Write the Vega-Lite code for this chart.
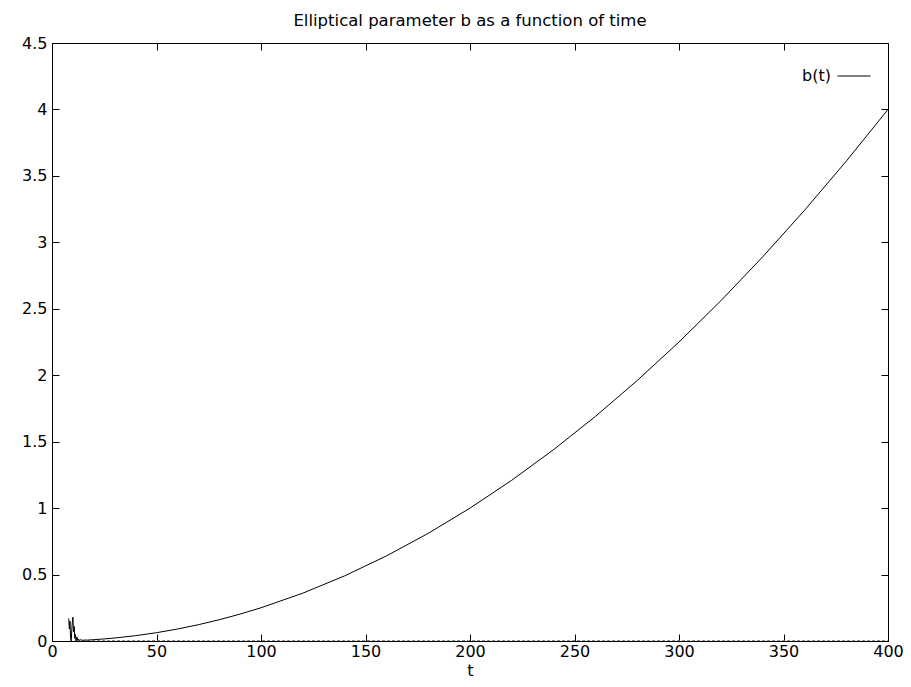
{
  "$schema": "https://vega.github.io/schema/vega-lite/v6.json",
  "width": 836,
  "height": 598,
  "autosize": {"type": "none"},
  "padding": {"left": 52, "top": 43, "right": 23, "bottom": 44},
  "background": "white",
  "title": {"text": "Elliptical parameter b as a function of time", "font": "DejaVu Sans", "fontSize": 16.5, "fontWeight": "normal", "color": "black", "offset": 6},
  "config": {
    "view": {"stroke": "black", "strokeWidth": 1},
    "axis": {"labelFont": "DejaVu Sans", "labelFontSize": 16, "labelColor": "black", "labelFlush": false, "labelOverlap": false, "titleFont": "DejaVu Sans", "titleFontSize": 16, "titleFontWeight": "normal", "titleColor": "black", "domainColor": "black", "tickColor": "black", "tickSize": -7, "grid": false}
  },
  "datasets": {
    "main": [
      {"t": 8.0, "b": 0.17, "series": "b(t)"},
      {"t": 8.3, "b": 0.09, "series": "b(t)"},
      {"t": 8.6, "b": 0.15, "series": "b(t)"},
      {"t": 8.9, "b": 0.02, "series": "b(t)"},
      {"t": 9.2, "b": 0.0, "series": "b(t)"},
      {"t": 9.6, "b": 0.12, "series": "b(t)"},
      {"t": 10.0, "b": 0.18, "series": "b(t)"},
      {"t": 10.3, "b": 0.07, "series": "b(t)"},
      {"t": 10.6, "b": 0.11, "series": "b(t)"},
      {"t": 10.9, "b": 0.02, "series": "b(t)"},
      {"t": 11.2, "b": 0.05, "series": "b(t)"},
      {"t": 11.5, "b": 0.0, "series": "b(t)"},
      {"t": 11.9, "b": 0.03, "series": "b(t)"},
      {"t": 12.3, "b": 0.005, "series": "b(t)"},
      {"t": 12.7, "b": 0.015, "series": "b(t)"},
      {"t": 13.2, "b": 0.004, "series": "b(t)"},
      {"t": 13.8, "b": 0.01, "series": "b(t)"},
      {"t": 14.5, "b": 0.005, "series": "b(t)"},
      {"t": 15.5, "b": 0.007, "series": "b(t)"},
      {"t": 17, "b": 0.007, "series": "b(t)"},
      {"t": 20, "b": 0.01, "series": "b(t)"},
      {"t": 25, "b": 0.0156, "series": "b(t)"},
      {"t": 30, "b": 0.0225, "series": "b(t)"},
      {"t": 40, "b": 0.04, "series": "b(t)"},
      {"t": 50, "b": 0.0625, "series": "b(t)"},
      {"t": 60, "b": 0.09, "series": "b(t)"},
      {"t": 70, "b": 0.1225, "series": "b(t)"},
      {"t": 80, "b": 0.16, "series": "b(t)"},
      {"t": 90, "b": 0.2025, "series": "b(t)"},
      {"t": 100, "b": 0.25, "series": "b(t)"},
      {"t": 120, "b": 0.36, "series": "b(t)"},
      {"t": 140, "b": 0.49, "series": "b(t)"},
      {"t": 160, "b": 0.64, "series": "b(t)"},
      {"t": 180, "b": 0.81, "series": "b(t)"},
      {"t": 200, "b": 1.0, "series": "b(t)"},
      {"t": 220, "b": 1.21, "series": "b(t)"},
      {"t": 240, "b": 1.44, "series": "b(t)"},
      {"t": 260, "b": 1.69, "series": "b(t)"},
      {"t": 280, "b": 1.96, "series": "b(t)"},
      {"t": 300, "b": 2.25, "series": "b(t)"},
      {"t": 320, "b": 2.56, "series": "b(t)"},
      {"t": 340, "b": 2.89, "series": "b(t)"},
      {"t": 360, "b": 3.24, "series": "b(t)"},
      {"t": 380, "b": 3.61, "series": "b(t)"},
      {"t": 400, "b": 4.0, "series": "b(t)"}
    ],
    "base": [
      {"t": 12, "b": 0.0},
      {"t": 400, "b": 0.0}
    ]
  },
  "layer": [
    {
      "data": {"name": "base"},
      "mark": {"type": "line", "color": "#666666", "strokeWidth": 1.5, "strokeDash": [3, 2], "clip": true},
      "encoding": {
        "x": {"field": "t", "type": "quantitative", "scale": {"domain": [0, 400], "nice": false}, "axis": {"orient": "top", "labels": false, "title": null, "domain": false, "values": [0, 50, 100, 150, 200, 250, 300, 350, 400]}},
        "y": {"field": "b", "type": "quantitative", "scale": {"domain": [0, 4.5], "nice": false}, "axis": {"orient": "right", "labels": false, "title": null, "domain": false, "values": [0, 0.5, 1, 1.5, 2, 2.5, 3, 3.5, 4, 4.5]}}
      }
    },
    {
      "data": {"name": "main"},
      "mark": {"type": "line", "strokeWidth": 1, "clip": true},
      "encoding": {
        "x": {"field": "t", "type": "quantitative", "scale": {"domain": [0, 400], "nice": false}, "axis": {"orient": "bottom", "title": "t", "titlePadding": 3, "labelPadding": 9, "values": [0, 50, 100, 150, 200, 250, 300, 350, 400]}},
        "y": {"field": "b", "type": "quantitative", "scale": {"domain": [0, 4.5], "nice": false}, "axis": {"orient": "left", "title": null, "labelPadding": 12, "format": "~g", "values": [0, 0.5, 1, 1.5, 2, 2.5, 3, 3.5, 4, 4.5]}},
        "color": {"field": "series", "type": "nominal", "scale": {"domain": ["b(t)"], "range": ["black"]},
          "legend": {"title": null, "orient": "none", "legendX": 785, "legendY": 16, "symbolType": "stroke", "symbolSize": 1089, "symbolStrokeWidth": 1, "labelAlign": "right", "labelOffset": -40, "labelFont": "DejaVu Sans", "labelFontSize": 16, "labelColor": "black"}}
      }
    }
  ],
  "resolve": {"axis": {"x": "independent", "y": "independent"}}
}
